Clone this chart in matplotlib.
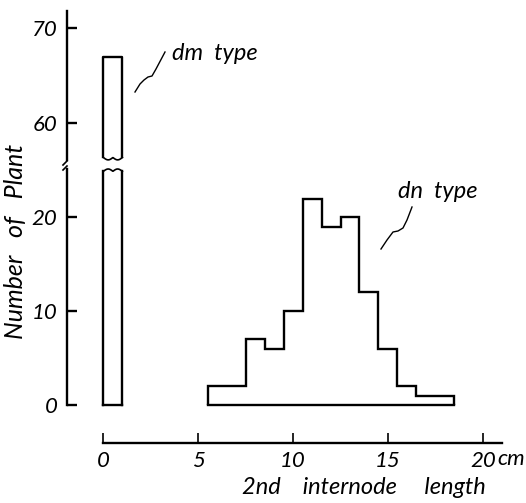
import numpy as np
import matplotlib
matplotlib.use("Agg")
from matplotlib import pyplot as plt

# dm type: one tall bar at 0-1 cm
dm_edges = [0, 1]
dm_count = 67

# dn type: 1 cm bins from 5.5 to 18.5 cm
dn_edges = [5.5, 6.5, 7.5, 8.5, 9.5, 10.5, 11.5, 12.5, 13.5, 14.5, 15.5, 16.5, 17.5, 18.5]
dn_counts = [2, 2, 7, 6, 10, 22, 19, 20, 12, 6, 2, 1, 1]

x_ticks = [0, 5, 10, 15, 20]
x_ticklabels = ["0", "5", "10", "15", "20"]
low_yticks = [0, 10, 20]
up_yticks = [60, 70]

W, H = 526, 503
font = dict(family=["Lato", "DejaVu Sans"], style="italic", weight="normal")
lw = 1.7


def frac(left, top, right, bottom):
	return [left / W, 1 - bottom / H, (right - left) / W, (bottom - top) / H]


def px(x, y):
	return x / W, 1 - y / H


fig = plt.figure(figsize=(W / 100, H / 100), dpi=100)
ax_up = fig.add_axes(frac(67, 8, 515, 163))
ax_lo = fig.add_axes(frac(67, 166, 515, 443))

for ax in (ax_up, ax_lo):
	ax.set_xlim(-1.92, 21.7)
	ax.set_facecolor("none")
	for s in ("top", "right"):
		ax.spines[s].set_visible(False)
	ax.spines["left"].set_linewidth(lw)
	ax.tick_params(axis="y", direction="in", length=7, width=lw, pad=7)

ax_up.set_ylim(55.82, 72.14)
ax_lo.set_ylim(-4.05, 25.47)
ax_up.spines["bottom"].set_visible(False)
ax_up.set_xticks([])
ax_up.spines["left"].set_bounds(56.1, 71.8)
ax_lo.spines["left"].set_bounds(0, 25.1)
ax_up.set_yticks(up_yticks)
ax_lo.set_yticks(low_yticks)
ax_up.set_yticklabels([str(v) for v in up_yticks], **font, fontsize=16)
ax_lo.set_yticklabels([str(v) for v in low_yticks], **font, fontsize=16)

ax_lo.spines["bottom"].set_bounds(0, 21)
ax_lo.spines["bottom"].set_linewidth(lw)
ax_lo.set_xticks(x_ticks)
ax_lo.set_xticklabels(x_ticklabels, **font, fontsize=16)
ax_lo.tick_params(axis="x", direction="in", length=7, width=1.2, pad=6)

# dm bar, broken in two pieces with wavy ends
x0, x1 = dm_edges
wx = np.linspace(x0, x1, 40)
wave = np.abs(np.sin(2 * np.pi * (wx - x0) / (x1 - x0)))
top_lo = 24.9
ax_lo.plot([x0, x0], [0, top_lo], color="black", lw=lw)
ax_lo.plot([x1, x1], [0, top_lo], color="black", lw=lw)
ax_lo.plot([x0, x1], [0, 0], color="black", lw=lw)
ax_lo.plot(wx, top_lo + 0.25 * wave, color="black", lw=1.2)

bot_up = 56.4
ax_up.plot([x0, x0, x1, x1], [bot_up, dm_count, dm_count, bot_up], color="black", lw=lw)
ax_up.plot(wx, bot_up - 0.25 * wave, color="black", lw=1.2)

# dn histogram outline
ax_lo.stairs(dn_counts, dn_edges, baseline=0, fill=False, color="black", lw=lw)
ax_lo.plot([dn_edges[0], dn_edges[-1]], [0, 0], color="black", lw=lw)

# break marks on the y axis
fig.add_artist(plt.Line2D(*zip(px(63, 170), px(67, 166)), color="black", lw=1.2))
fig.add_artist(plt.Line2D(*zip(px(63, 165), px(67, 161)), color="black", lw=1.2))

# labels
fig.text(*px(16, 241), "Number   of   Plant", rotation=90, ha="center", va="center", fontsize=18, **font)
fig.text(*px(364, 488), "2nd    internode     length", ha="center", va="center", fontsize=17, **font)
fig.text(*px(497, 459), "cm", ha="left", va="center", fontsize=16, **font)

fig.text(*px(172, 54), "dm  type", ha="left", va="center", fontsize=17, **font)
fig.text(*px(398, 192), "dn  type", ha="left", va="center", fontsize=17, **font)

# hand drawn leader lines
dm_leader = [(135, 92), (140, 84), (144, 80), (148, 77), (152, 76), (156, 69), (165, 52)]
dn_leader = [(381, 249), (387, 240), (393, 232), (398, 231), (403, 228), (407, 220), (412, 207)]
for pts in (dm_leader, dn_leader):
	xs, ys = zip(*[px(a, b) for a, b in pts])
	fig.add_artist(plt.Line2D(xs, ys, color="black", lw=1.0))

fig.savefig("out.png", dpi=100)
